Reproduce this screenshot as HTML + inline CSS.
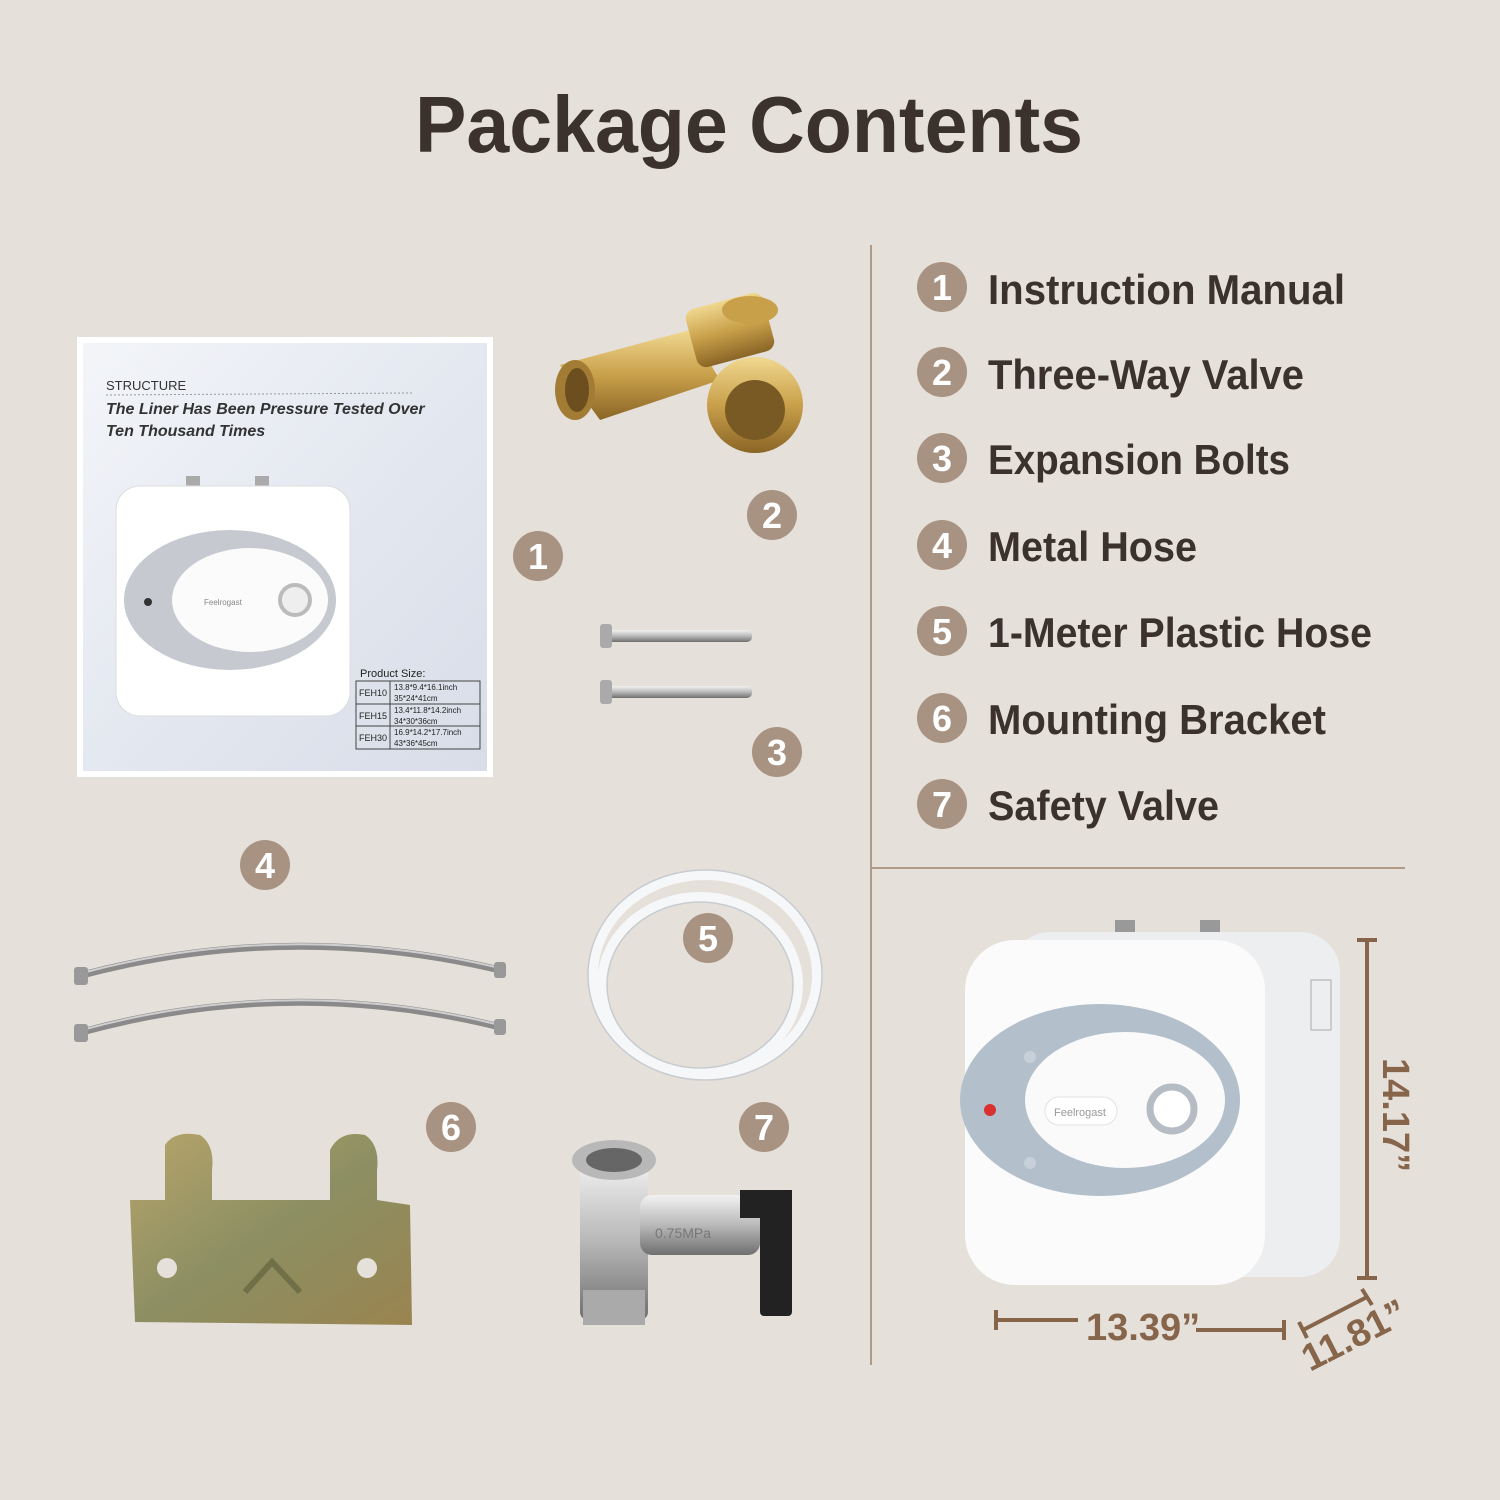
<!DOCTYPE html>
<html><head><meta charset="utf-8"><style>
html,body{margin:0;padding:0;background:#e5e0da;}
svg{display:block;font-family:"Liberation Sans",sans-serif;}
</style></head><body>
<svg width="1500" height="1500" viewBox="0 0 1500 1500" xmlns="http://www.w3.org/2000/svg">
<defs>
<linearGradient id="man" x1="0" y1="0" x2="1" y2="1"><stop offset="0" stop-color="#f3f5f9"/><stop offset="0.5" stop-color="#e4e8f0"/><stop offset="1" stop-color="#d8dde8"/></linearGradient>
<linearGradient id="brass" x1="0" y1="0" x2="0" y2="1"><stop offset="0" stop-color="#f0d890"/><stop offset="0.5" stop-color="#c9a04a"/><stop offset="1" stop-color="#8a6526"/></linearGradient>
<linearGradient id="steel" x1="0" y1="0" x2="0" y2="1"><stop offset="0" stop-color="#f2f2f2"/><stop offset="0.5" stop-color="#b9b9b9"/><stop offset="1" stop-color="#6f6f6f"/></linearGradient>
<linearGradient id="brk" x1="0" y1="0" x2="1" y2="1"><stop offset="0" stop-color="#b7a46a"/><stop offset="0.5" stop-color="#8c8f63"/><stop offset="1" stop-color="#9a8450"/></linearGradient>
</defs>
<rect width="1500" height="1500" fill="#e5e0da"/>
<text x="415" y="152" textLength="668" lengthAdjust="spacingAndGlyphs" font-size="80" font-weight="bold" fill="#3b322d">Package Contents</text>

<line x1="871" y1="245" x2="871" y2="1365" stroke="#b09a85" stroke-width="2"/>
<line x1="871" y1="868" x2="1405" y2="868" stroke="#b09a85" stroke-width="2"/>

<g font-size="42" font-weight="bold" fill="#3b322d">
<g fill="#a89382"><circle cx="942" cy="287" r="25"/><circle cx="942" cy="372" r="25"/><circle cx="942" cy="458" r="25"/><circle cx="942" cy="545" r="25"/><circle cx="942" cy="631" r="25"/><circle cx="942" cy="718" r="25"/><circle cx="942" cy="804" r="25"/></g>
<g fill="#fff" font-size="36" text-anchor="middle"><text x="942" y="300">1</text><text x="942" y="385">2</text><text x="942" y="471">3</text><text x="942" y="558">4</text><text x="942" y="644">5</text><text x="942" y="731">6</text><text x="942" y="817">7</text></g>
<text x="988" y="304" textLength="357" lengthAdjust="spacingAndGlyphs">Instruction Manual</text>
<text x="988" y="389" textLength="316" lengthAdjust="spacingAndGlyphs">Three-Way Valve</text>
<text x="988" y="474" textLength="302" lengthAdjust="spacingAndGlyphs">Expansion Bolts</text>
<text x="988" y="561" textLength="209" lengthAdjust="spacingAndGlyphs">Metal Hose</text>
<text x="988" y="647" textLength="384" lengthAdjust="spacingAndGlyphs">1-Meter Plastic Hose</text>
<text x="988" y="734" textLength="338" lengthAdjust="spacingAndGlyphs">Mounting Bracket</text>
<text x="988" y="820" textLength="231" lengthAdjust="spacingAndGlyphs">Safety Valve</text>
</g>

<!-- manual -->
<rect x="77" y="337" width="416" height="440" fill="#fff"/>
<rect x="83" y="343" width="404" height="428" fill="url(#man)"/>
<text x="106" y="390" font-size="13" fill="#333">STRUCTURE</text>
<line x1="106" y1="395" x2="412" y2="393" stroke="#999" stroke-dasharray="2,2"/>
<text x="106" y="414" font-size="16" font-style="italic" font-weight="bold" fill="#333">The Liner Has Been Pressure Tested Over</text>
<text x="106" y="436" font-size="16" font-style="italic" font-weight="bold" fill="#333">Ten Thousand Times</text>
<rect x="186" y="476" width="14" height="14" fill="#aaa"/><rect x="255" y="476" width="14" height="14" fill="#aaa"/>
<rect x="116" y="486" width="234" height="230" rx="24" fill="#fff" stroke="#ddd"/>
<ellipse cx="230" cy="600" rx="106" ry="70" fill="#c6c9cf"/>
<ellipse cx="250" cy="600" rx="78" ry="52" fill="#fbfbfb"/>
<text x="204" y="605" font-size="8" fill="#888">Feelrogast</text>
<circle cx="295" cy="600" r="15" fill="#eee" stroke="#bbb" stroke-width="4"/>
<circle cx="148" cy="602" r="4" fill="#333"/>
<g font-size="10" fill="#222"><text x="360" y="677" font-size="11">Product Size:</text>
<rect x="356" y="681" width="124" height="68" fill="none" stroke="#444"/>
<line x1="356" y1="704" x2="480" y2="704" stroke="#444"/><line x1="356" y1="726" x2="480" y2="726" stroke="#444"/><line x1="390" y1="681" x2="390" y2="749" stroke="#444"/>
<text x="359" y="696" font-size="9">FEH10</text><text x="394" y="690" font-size="8">13.8*9.4*16.1inch</text><text x="394" y="701" font-size="8">35*24*41cm</text>
<text x="359" y="719" font-size="9">FEH15</text><text x="394" y="713" font-size="8">13.4*11.8*14.2inch</text><text x="394" y="724" font-size="8">34*30*36cm</text>
<text x="359" y="741" font-size="9">FEH30</text><text x="394" y="735" font-size="8">16.9*14.2*17.7inch</text><text x="394" y="746" font-size="8">43*36*45cm</text></g>

<!-- three way valve -->
<g>
<path d="M560 365 L690 330 L720 380 L600 420 Z" fill="url(#brass)"/>
<rect x="690" y="300" width="80" height="60" rx="10" fill="url(#brass)" transform="rotate(-15 730 330)"/>
<ellipse cx="575" cy="390" rx="20" ry="30" fill="#a27c35"/><ellipse cx="577" cy="390" rx="12" ry="22" fill="#6d4f1f"/>
<circle cx="755" cy="405" r="48" fill="url(#brass)"/><circle cx="755" cy="410" r="30" fill="#7a5a24"/>
<ellipse cx="750" cy="310" rx="28" ry="14" fill="#c9a04a"/>
</g>

<!-- bolts -->
<g><rect x="600" y="630" width="152" height="12" rx="5" fill="url(#steel)"/><rect x="600" y="624" width="12" height="24" rx="3" fill="#aaa"/>
<rect x="600" y="686" width="152" height="12" rx="5" fill="url(#steel)"/><rect x="600" y="680" width="12" height="24" rx="3" fill="#aaa"/></g>

<!-- hoses -->
<g fill="none" stroke="#8a8a8a" stroke-width="7">
<path d="M82 975 Q290 920 500 970"/><path d="M82 1032 Q290 975 500 1027"/></g>
<g fill="none" stroke="#cfcfcf" stroke-width="2">
<path d="M82 973 Q290 918 500 968"/><path d="M82 1030 Q290 973 500 1025"/></g>
<g fill="#999"><rect x="74" y="967" width="14" height="18" rx="3"/><rect x="74" y="1024" width="14" height="18" rx="3"/><rect x="494" y="962" width="12" height="16" rx="3"/><rect x="494" y="1019" width="12" height="16" rx="3"/></g>

<!-- plastic hose -->
<g fill="none" stroke="#f6f7f8" stroke-width="10"><ellipse cx="705" cy="975" rx="112" ry="100"/><ellipse cx="700" cy="985" rx="98" ry="88"/></g>
<g fill="none" stroke="#c8ccd0" stroke-width="1.5"><ellipse cx="705" cy="975" rx="117" ry="105"/><ellipse cx="700" cy="985" rx="93" ry="83"/></g>

<!-- bracket -->
<path d="M130 1200 L165 1200 L165 1145 Q175 1130 200 1135 Q215 1145 212 1170 L212 1200 L330 1200 L330 1150 Q340 1130 365 1135 Q380 1145 377 1170 L377 1200 L410 1205 L412 1325 L135 1322 Z" fill="url(#brk)"/>
<circle cx="167" cy="1268" r="10" fill="#e5e0da"/><circle cx="367" cy="1268" r="10" fill="#e5e0da"/>
<path d="M245 1292 L272 1262 L300 1292" fill="none" stroke="#6f6f48" stroke-width="6"/>

<!-- safety valve -->
<g>
<rect x="580" y="1160" width="68" height="160" rx="8" fill="url(#steel)"/>
<ellipse cx="614" cy="1160" rx="42" ry="20" fill="#b8b8b8"/><ellipse cx="614" cy="1160" rx="28" ry="12" fill="#666"/>
<rect x="640" y="1195" width="120" height="60" rx="12" fill="url(#steel)"/>
<rect x="740" y="1190" width="52" height="28" fill="#222"/><rect x="760" y="1190" width="32" height="126" rx="4" fill="#222"/>
<text x="655" y="1238" font-size="14" fill="#777">0.75MPa</text>
<rect x="583" y="1290" width="62" height="35" fill="#aaa"/>
</g>

<!-- number circles left -->
<g fill="#a89382"><circle cx="538" cy="556" r="25"/><circle cx="772" cy="515" r="25"/><circle cx="777" cy="752" r="25"/><circle cx="265" cy="865" r="25"/><circle cx="708" cy="938" r="25"/><circle cx="451" cy="1127" r="25"/><circle cx="764" cy="1127" r="25"/></g>
<g fill="#fff" font-size="36" font-weight="bold" text-anchor="middle"><text x="538" y="569">1</text><text x="772" y="528">2</text><text x="777" y="765">3</text><text x="265" y="878">4</text><text x="708" y="951">5</text><text x="451" y="1140">6</text><text x="764" y="1140">7</text></g>

<!-- heater -->
<rect x="1115" y="920" width="20" height="20" fill="#999"/><rect x="1200" y="920" width="20" height="20" fill="#999"/>
<rect x="1010" y="932" width="330" height="345" rx="40" fill="#eceeef"/>
<rect x="965" y="940" width="300" height="345" rx="50" fill="#fbfbfb"/>
<ellipse cx="1100" cy="1100" rx="140" ry="96" fill="#b3c0cc"/>
<ellipse cx="1125" cy="1100" rx="100" ry="68" fill="#fafafa"/>
<rect x="1045" y="1097" width="72" height="28" rx="14" fill="#fff" stroke="#e2e2e2"/>
<text x="1054" y="1116" font-size="11" fill="#999">Feelrogast</text>
<circle cx="1172" cy="1109" r="22" fill="#fff" stroke="#b6bcc3" stroke-width="7"/>
<circle cx="990" cy="1110" r="6" fill="#d8312f"/>
<circle cx="1030" cy="1057" r="6" fill="#c7d0d8"/><circle cx="1030" cy="1163" r="6" fill="#c7d0d8"/>
<rect x="1311" y="980" width="20" height="50" fill="none" stroke="#aaa"/>

<!-- dimensions -->
<g stroke="#86654a" stroke-width="4" fill="none">
<line x1="1367" y1="940" x2="1367" y2="1278"/><line x1="1357" y1="940" x2="1377" y2="940"/><line x1="1357" y1="1278" x2="1377" y2="1278"/>
<line x1="996" y1="1320" x2="1078" y2="1320"/><line x1="996" y1="1310" x2="996" y2="1330"/>
<line x1="1196" y1="1330" x2="1284" y2="1330"/><line x1="1284" y1="1320" x2="1284" y2="1340"/>
<line x1="1303" y1="1330" x2="1367" y2="1297"/><line x1="1299" y1="1322" x2="1307" y2="1338"/><line x1="1362" y1="1289" x2="1372" y2="1305"/>
</g>
<g fill="#86654a" font-size="38" font-weight="bold">
<text x="1086" y="1340">13.39”</text>
<text transform="translate(1383 1058) rotate(90)">14.17”</text>
<text transform="translate(1310 1372) rotate(-27)">11.81”</text>
</g>
</svg>
</body></html>
